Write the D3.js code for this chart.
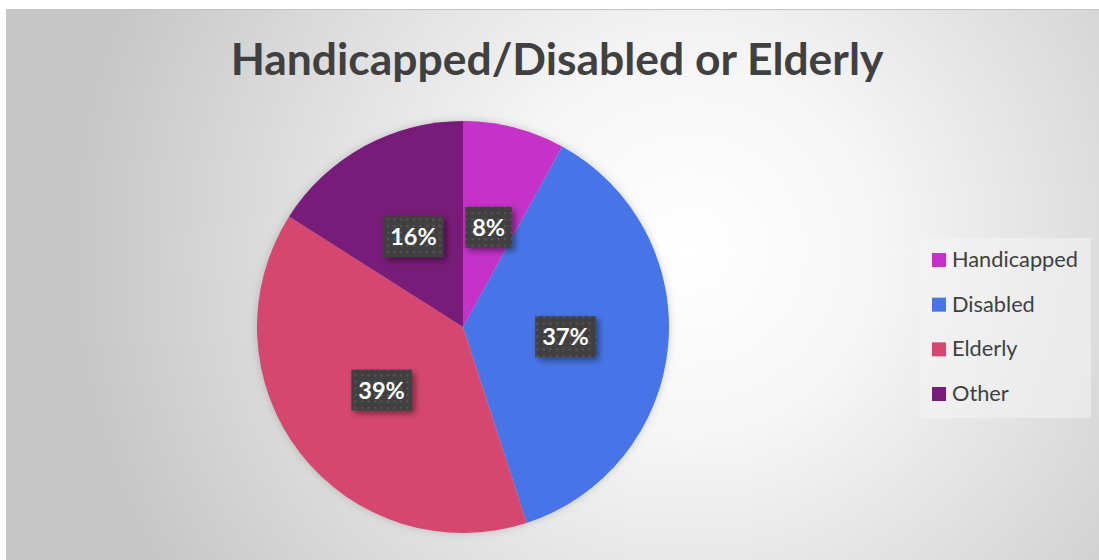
<!DOCTYPE html>
<html><head><meta charset="utf-8">
<script src="https://cdn.jsdelivr.net/npm/d3@7"></script>
<style>body{margin:0;background:#fff}svg{display:block}</style>
</head><body>
<svg id="c" width="1099" height="560"></svg>
<script>
const categories = ["Handicapped", "Disabled", "Elderly", "Other"];
const values = [8, 37, 39, 16];
const colors = ["#c430c8", "#4775e8", "#d5476f", "#781b7a"];
const title = "Handicapped/Disabled or Elderly";

const svg = d3.select("#c");
const defs = svg.append("defs");
const rg = defs.append("radialGradient").attr("id","bg").attr("gradientUnits","userSpaceOnUse")
  .attr("cx",690).attr("cy",250).attr("r",620);
rg.append("stop").attr("offset","0%").attr("stop-color","#ffffff");
rg.append("stop").attr("offset","30%").attr("stop-color","#f6f6f6");
rg.append("stop").attr("offset","100%").attr("stop-color","#c6c6c6");
const pat = defs.append("pattern").attr("id","dots").attr("patternUnits","userSpaceOnUse")
  .attr("width",6.5).attr("height",6.5);
pat.append("rect").attr("width",6.5).attr("height",6.5).attr("fill","#3f3f3f");
pat.append("rect").attr("x",2).attr("y",2).attr("width",2).attr("height",2).attr("fill","#5a5a5a");
const sh = defs.append("filter").attr("id","sh").attr("x","-30%").attr("y","-30%").attr("width","160%").attr("height","160%");
sh.append("feDropShadow").attr("dx",3).attr("dy",3).attr("stdDeviation",3).attr("flood-color","#000").attr("flood-opacity",0.45);
const psh = defs.append("filter").attr("id","psh").attr("x","-20%").attr("y","-20%").attr("width","140%").attr("height","140%");
psh.append("feDropShadow").attr("dx",0).attr("dy",0).attr("stdDeviation",4).attr("flood-color","#000").attr("flood-opacity",0.18);

svg.append("rect").attr("x",6).attr("y",9).attr("width",1093).attr("height",551)
  .attr("fill","url(#bg)");
svg.append("line").attr("x1",6).attr("x2",1099).attr("y1",9.5).attr("y2",9.5).attr("stroke","#c4c4c4");
svg.append("line").attr("x1",6.5).attr("x2",6.5).attr("y1",9).attr("y2",560).attr("stroke","#c8c8c8");

const font = "Lato, 'Open Sans', sans-serif";
function fit(sel, target, base){
  const w = sel.node().getComputedTextLength();
  sel.attr("font-size", base*target/w);
}

const t = svg.append("text").attr("x",557).attr("y",75).attr("text-anchor","middle")
  .attr("font-family",font).attr("font-weight","bold").attr("font-size",40)
  .attr("fill","#404040").text(title);
fit(t, 653, 40);

const cx = 463, cy = 327, r = 206;
const pie = d3.pie().sort(null).value(d=>d);
const arc = d3.arc().innerRadius(0).outerRadius(r);
const g = svg.append("g").attr("transform",`translate(${cx},${cy})`);
const arcs = pie(values);
g.append("g").attr("filter","url(#psh)").selectAll("path").data(arcs).join("path")
  .attr("d",arc).attr("fill",(d,i)=>colors[i]);

const labelFs = 23.5;
const lg = g.append("g");
arcs.forEach((d,i)=>{
  const [x,y] = arc.centroid(d);
  const tg = lg.append("g");
  const rect = tg.append("rect").attr("fill","url(#dots)").attr("filter","url(#sh)");
  const tx = tg.append("text").attr("x",x).attr("y",y+8.5).attr("text-anchor","middle")
    .attr("font-family",font).attr("font-weight","bold").attr("font-size",labelFs)
    .attr("fill","#ffffff").text(values[i]+"%");
  const w = tx.node().getComputedTextLength() + 14;
  rect.attr("x",x-w/2).attr("y",y-20.5).attr("width",w).attr("height",41);
});

// legend
const leg = svg.append("g");
leg.append("rect").attr("x",920).attr("y",238).attr("width",171).attr("height",180)
  .attr("fill","#f4f4f4").attr("fill-opacity",0.55);
const rowY = d3.scalePoint().domain(categories).range([260,394]);
let lfs = 20;
categories.forEach((c,i)=>{
  const y = rowY(c);
  leg.append("rect").attr("x",932).attr("y",y-7).attr("width",14).attr("height",14).attr("fill",colors[i]);
  const tx = leg.append("text").attr("class","lt").attr("x",952).attr("y",y+7)
    .attr("font-family",font).attr("font-size",20).attr("fill","#404040").text(c);
  if(i===0){ lfs = 20*126/tx.node().getComputedTextLength(); }
});
leg.selectAll(".lt").attr("font-size",lfs);
</script>
</body></html>
